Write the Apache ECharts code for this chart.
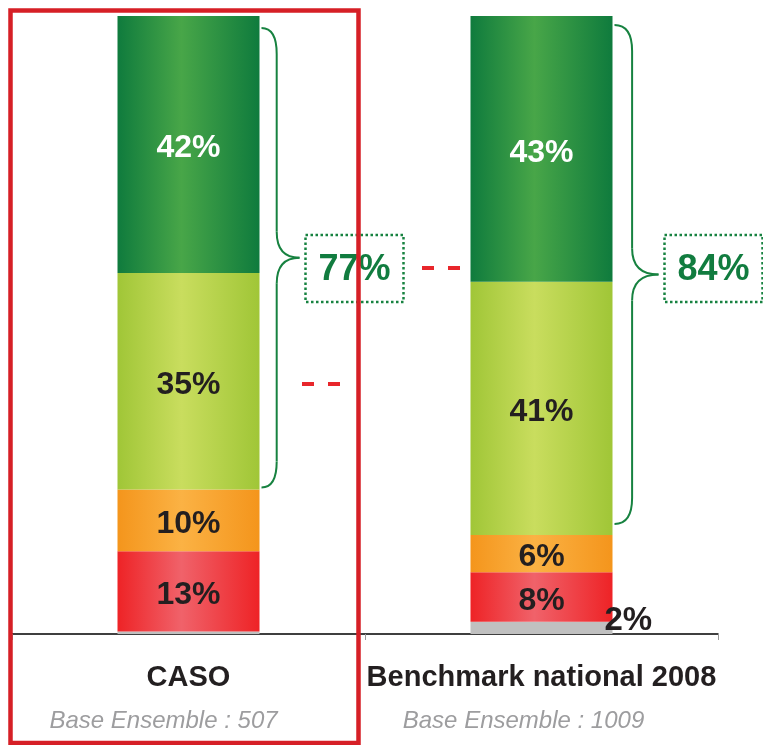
<!DOCTYPE html>
<html lang="fr">
<head>
    <meta charset="UTF-8">
    <title>CASO vs Benchmark</title>
    <script src="https://cdn.jsdelivr.net/npm/echarts@6/dist/echarts.min.js"></script>
    <style>
        html, body { margin: 0; padding: 0; background: #fff; }
    </style>
</head>
<body>
<div id="main" style="width: 763px;height:745px;"></div>

<script type="text/javascript">
    // données
    var categories = ['CASO', 'Benchmark national 2008'];
    var bases = ['Base Ensemble : 507', 'Base Ensemble : 1009'];
    var grey = [0.4, 2];
    var red = [13, 8];
    var orange = [10, 6];
    var lime = [35, 41];
    var green = [42, 43];

    var FONT = "'Liberation Sans', Arial, sans-serif";

    function grad(edge, mid) {
        return new echarts.graphic.LinearGradient(0, 0, 1, 0, [
            {offset: 0, color: edge},
            {offset: 0.45, color: mid},
            {offset: 1, color: edge}
        ]);
    }

    function lbl(color) {
        return {
            show: true,
            position: 'inside',
            offset: [0, 4],
            color: color,
            fontFamily: FONT,
            fontWeight: 'bold',
            fontSize: 32,
            formatter: function (p) { return p.value + '%'; }
        };
    }

    var myChart = echarts.init(document.getElementById('main'));

    var greyData = grey.map(function (v, i) {
        if (v < 1) return {value: v, label: {show: false}};
        return {value: v, label: {position: 'right', distance: -8, offset: [0, -7], fontSize: 33}};
    });

    var option = {
        animation: false,
        grid: {left: 12, right: 45, top: 16, bottom: 111},
        xAxis: {
            type: 'category',
            data: categories,
            axisLine: {lineStyle: {color: '#000', width: 1.5}},
            axisTick: {show: true, length: 6, lineStyle: {color: '#999'}},
            axisLabel: {
                margin: 21,
                formatter: function (v, i) {
                    return '{a|' + v + '}\n{b' + i + '|' + bases[i] + '}';
                },
                rich: {
                    a: {fontFamily: FONT, fontWeight: 'bold', fontSize: 29, color: '#231f20', lineHeight: 46},
                    b0: {fontFamily: FONT, fontStyle: 'italic', fontSize: 24, color: '#9d9d9f', lineHeight: 40, padding: [0, 50, 0, 0]},
                    b1: {fontFamily: FONT, fontStyle: 'italic', fontSize: 24, color: '#9d9d9f', lineHeight: 40, padding: [0, 36, 0, 0]}
                }
            }
        },
        yAxis: {type: 'value', min: 0, max: 100, show: false},
        series: [
            {type: 'bar', stack: 't', barWidth: 142, data: greyData,
                itemStyle: {color: '#c0c0c0'}, label: lbl('#231f20')},
            {type: 'bar', stack: 't', data: red,
                itemStyle: {color: grad('#ee2326', '#f0626a')}, label: lbl('#231f20')},
            {type: 'bar', stack: 't', data: orange,
                itemStyle: {color: grad('#f4951c', '#fbb244')}, label: lbl('#231f20')},
            {type: 'bar', stack: 't', data: lime,
                itemStyle: {color: grad('#a0c637', '#c9dd5e')}, label: lbl('#231f20')},
            {type: 'bar', stack: 't', data: green,
                itemStyle: {color: grad('#0f7b3d', '#48a648')}, label: lbl('#ffffff')}
        ]
    };
    myChart.setOption(option);

    // accolades + encadrés
    var braceStyle = {stroke: '#178240', lineWidth: 2, fill: null};
    function brace(x0, y1, y2, w) {
        var xm = x0 + w * 0.4, xt = x0 + w, ym = (y1 + y2) / 2, r = 26;
        return [
            {type: 'bezierCurve', shape: {x1: x0, y1: y1, cpx1: xm, cpy1: y1, x2: xm, y2: y1 + r}, style: braceStyle},
            {type: 'line', shape: {x1: xm, y1: y1 + r, x2: xm, y2: ym - r}, style: braceStyle},
            {type: 'bezierCurve', shape: {x1: xm, y1: ym - r, cpx1: xm, cpy1: ym, x2: xt, y2: ym}, style: braceStyle},
            {type: 'bezierCurve', shape: {x1: xt, y1: ym, cpx1: xm, cpy1: ym, x2: xm, y2: ym + r}, style: braceStyle},
            {type: 'line', shape: {x1: xm, y1: ym + r, x2: xm, y2: y2 - r}, style: braceStyle},
            {type: 'bezierCurve', shape: {x1: xm, y1: y2 - r, cpx1: xm, cpy1: y2, x2: x0, y2: y2}, style: braceStyle}
        ];
    }

    var graphics = [];
    var braceW = [38, 44];
    var braceInset = [[12, 2], [9, 11]];
    categories.forEach(function (c, i) {
        var low = grey[i] + red[i] + orange[i];
        var top = myChart.convertToPixel({gridIndex: 0}, [i, 100]);
        var bot = myChart.convertToPixel({gridIndex: 0}, [i, low]);
        var x0 = top[0] + 71 + 2;
        var y1 = top[1] + braceInset[i][0], y2 = bot[1] - braceInset[i][1];
        graphics = graphics.concat(brace(x0, y1, y2, braceW[i]));
        var bx = x0 + braceW[i] + 6;
        graphics.push({
            type: 'rect',
            shape: {x: bx, y: 235, width: 98, height: 67},
            style: {fill: '#fff', stroke: '#178240', lineWidth: 2.5, lineDash: [2.5, 2.5]}
        });
        graphics.push({
            type: 'text',
            x: bx + 49, y: 270,
            style: {
                text: (lime[i] + green[i]) + '%',
                fill: '#117c3f', font: 'bold 36px ' + FONT,
                align: 'center', verticalAlign: 'middle'
            }
        });
    });

    // cadre rouge et tirets
    graphics.push({
        type: 'rect', z: 10,
        shape: {x: 10.5, y: 10.5, width: 348, height: 732.5},
        style: {fill: null, stroke: '#d61f26', lineWidth: 4.5}
    });
    graphics.push({
        type: 'line',
        shape: {x1: 302, y1: 384, x2: 340, y2: 384},
        style: {stroke: '#e8262b', lineWidth: 4, lineDash: [12, 14]}
    });
    graphics.push({
        type: 'line',
        shape: {x1: 422, y1: 268, x2: 460, y2: 268},
        style: {stroke: '#e8262b', lineWidth: 4, lineDash: [12, 14]}
    });

    myChart.setOption({graphic: graphics});
</script>
</body>
</html>
